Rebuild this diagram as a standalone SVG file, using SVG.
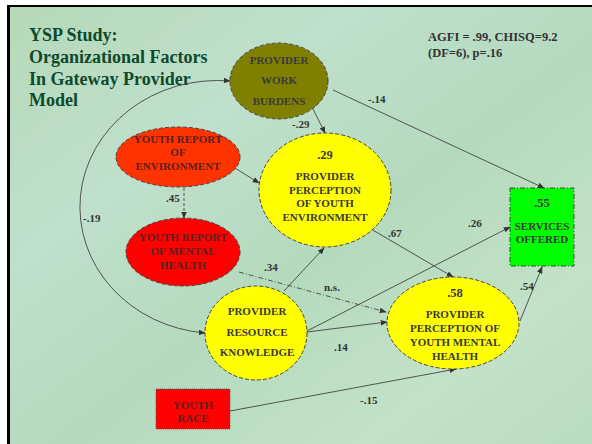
<svg xmlns="http://www.w3.org/2000/svg" width="592" height="444" viewBox="0 0 592 444">
<defs>
<linearGradient id="bg" x1="0" y1="0" x2="1" y2="1">
<stop offset="0" stop-color="#b6d9b9"/>
<stop offset="0.3" stop-color="#bfe0cc"/>
<stop offset="0.55" stop-color="#b4dabd"/>
<stop offset="0.8" stop-color="#c3e2c8"/>
<stop offset="1" stop-color="#b9dcc0"/>
</linearGradient>
<marker id="ah" viewBox="0 0 10 10" refX="9" refY="5" markerWidth="7" markerHeight="7" markerUnits="userSpaceOnUse" orient="auto-start-reverse">
<path d="M0 1 L10 5 L0 9 Z" fill="#333"/>
</marker>
<style>
.title{font-family:"Liberation Serif",serif;font-weight:bold;font-size:18px;fill:#0e4a2c}
.fit{font-family:"Liberation Serif",serif;font-weight:bold;font-size:12.5px;fill:#333}
.lbl{font-family:"Liberation Serif",serif;font-weight:bold;font-size:11px;fill:#333}
.nt{font-family:"Liberation Serif",serif;font-weight:bold;font-size:11px;fill:#3a3a3a;text-anchor:middle}
.ntr{font-family:"Liberation Serif",serif;font-weight:bold;font-size:11px;fill:#5a2020;text-anchor:middle}
.big{font-size:12.5px}
.node{stroke:#444;stroke-width:1;stroke-dasharray:4 2}
.c{fill:none;stroke:#444;stroke-width:0.9;marker-end:url(#ah)}
</style>
</defs>
<rect x="0" y="0" width="592" height="444" fill="#ffffff"/>
<rect x="7" y="5" width="585" height="439" fill="#000"/>
<rect x="10" y="7" width="582" height="437" fill="url(#bg)"/>

<g id="title">
<text class="title" x="29" y="41">YSP Study:</text>
<text class="title" x="29" y="63">Organizational Factors</text>
<text class="title" x="29" y="85">In Gateway Provider</text>
<text class="title" x="29" y="106">Model</text>
</g>
<g id="fit">
<text class="fit" x="428" y="41">AGFI = .99, CHISQ=9.2</text>
<text class="fit" x="428" y="57">(DF=6), p=.16</text>
</g>

<g id="connectors">
<path class="c" style="marker-start:url(#ah)" d="M230 81 A137 126 0 0 0 205 333"/>
<text class="lbl" x="83" y="222">-.19</text>
<path class="c" d="M313 109 L325 133"/>
<text class="lbl" x="292" y="128">-.29</text>
<path class="c" d="M333 90 L544 188"/>
<text class="lbl" x="368" y="103">-.14</text>
<path class="c" d="M235 168 L259 183"/>
<path class="c" style="stroke-dasharray:3 2" d="M184 188 L184 218"/>
<text class="lbl" x="166" y="202">.45</text>
<path class="c" d="M284 291 L324 248"/>
<text class="lbl" x="264" y="271">.34</text>
<path class="c" style="stroke-dasharray:5 2 1 2" d="M239 272 L386 312"/>
<text class="lbl" x="324" y="291">n.s.</text>
<path class="c" d="M307 331 L510 227"/>
<text class="lbl" x="468" y="227">.26</text>
<path class="c" d="M307 332 L387 322"/>
<text class="lbl" x="334" y="351">.14</text>
<path class="c" d="M371 229 L453 277"/>
<text class="lbl" x="388" y="237">.67</text>
<path class="c" d="M520 321 L542 267"/>
<text class="lbl" x="520" y="290">.54</text>
<path class="c" d="M230 411 L456 369"/>
<text class="lbl" x="360" y="404">-.15</text>
</g>

<g id="work-burdens">
<ellipse class="node" cx="279" cy="81" rx="49" ry="38" fill="#808000"/>
<text class="nt" x="279" y="64">PROVIDER</text>
<text class="nt" x="279" y="84">WORK</text>
<text class="nt" x="279" y="105">BURDENS</text>
</g>
<g id="youth-env">
<ellipse class="node" cx="178" cy="157" rx="62" ry="30" fill="#ff3300"/>
<text class="ntr" x="178" y="143">YOUTH REPORT</text>
<text class="ntr" x="178" y="156">OF</text>
<text class="ntr" x="178" y="170">ENVIRONMENT</text>
</g>
<g id="youth-mh">
<ellipse class="node" cx="183" cy="252" rx="57" ry="34" fill="#ff0000"/>
<text class="ntr" x="183" y="241">YOUTH REPORT</text>
<text class="ntr" x="183" y="255">OF MENTAL</text>
<text class="ntr" x="183" y="269">HEALTH</text>
</g>
<g id="perception-env">
<ellipse class="node" cx="325" cy="190" rx="66" ry="57" fill="#ffff00"/>
<text class="nt big" x="325" y="159">.29</text>
<text class="nt" x="325" y="180">PROVIDER</text>
<text class="nt" x="325" y="194">PERCEPTION</text>
<text class="nt" x="325" y="207">OF YOUTH</text>
<text class="nt" x="325" y="221">ENVIRONMENT</text>
</g>
<g id="services">
<rect x="510" y="188" width="64" height="78" fill="#00ff00" stroke="#444" stroke-width="1" stroke-dasharray="5 2 1 2"/>
<text class="nt big" x="542" y="207">.55</text>
<text class="nt" x="542" y="230">SERVICES</text>
<text class="nt" x="542" y="243">OFFERED</text>
</g>
<g id="perception-mh">
<ellipse class="node" cx="453" cy="323" rx="66" ry="46" fill="#ffff00"/>
<text class="nt big" x="455" y="297">.58</text>
<text class="nt" x="455" y="318">PROVIDER</text>
<text class="nt" x="455" y="332">PERCEPTION OF</text>
<text class="nt" x="455" y="346">YOUTH MENTAL</text>
<text class="nt" x="455" y="360">HEALTH</text>
</g>
<g id="resource">
<ellipse class="node" cx="256" cy="333" rx="51" ry="47" fill="#ffff00"/>
<text class="nt" x="257" y="315">PROVIDER</text>
<text class="nt" x="257" y="336">RESOURCE</text>
<text class="nt" x="257" y="356">KNOWLEDGE</text>
</g>
<g id="youth-race">
<rect x="156" y="389" width="74" height="40" fill="#ff0000" stroke="#555" stroke-width="1" stroke-dasharray="1 1"/>
<text class="ntr" x="193" y="409">YOUTH</text>
<text class="ntr" x="193" y="422">RACE</text>
</g>
</svg>
